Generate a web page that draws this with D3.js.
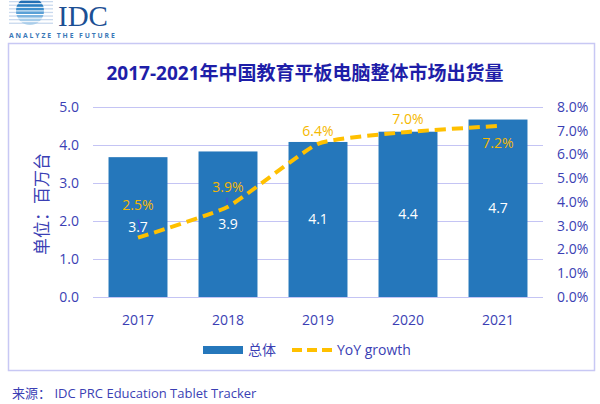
<!DOCTYPE html>
<html><head><meta charset="utf-8">
<script src="https://cdn.jsdelivr.net/npm/d3@7/dist/d3.min.js"></script>
<style>
body{margin:0;background:#fff;}
svg{display:block;font-family:"Open Sans","Noto Sans CJK SC",sans-serif;}
</style></head>
<body>
<svg id="c" width="600" height="404"></svg>
<script>
const years = ["2017","2018","2019","2020","2021"];
const totals = [3.68, 3.83, 4.08, 4.35, 4.67];
const totalLabels = ["3.7","3.9","4.1","4.4","4.7"];
const growth = [2.5, 3.8, 6.45, 6.95, 7.2];
const growthLabels = ["2.5%","3.9%","6.4%","7.0%","7.2%"];
const leftTicks = [0,1,2,3,4,5];
const rightTicks = [0,1,2,3,4,5,6,7,8];

const svg = d3.select("#c");
const textBlue = "#3b3fb4";
const barBlue = "#2577bb";
const yellow = "#ffc000";
const grid = "#c4c4f4";

// frame
svg.append("rect").attr("x",8.5).attr("y",43.5).attr("width",586).attr("height",327)
  .attr("fill","none").attr("stroke","#c8c8f4").attr("stroke-width",1.5);

// logo
const logo = svg.append("g");
const stripeCols = ["#1b5f9e","#2370b4","#2a7fc2","#3d8fcd","#5aa0d6","#7fb5e0","#a8cdea"];
for(let i=0;i<7;i++){
  const y = 1 + i*3.6;
  logo.append("rect").attr("x",9).attr("y",y).attr("width",44).attr("height",1.3).attr("fill","#c9d9ee");
}
const clip = svg.append("clipPath").attr("id","globe");
clip.append("circle").attr("cx",30).attr("cy",11).attr("r",14);
const gl = logo.append("g").attr("clip-path","url(#globe)");
for(let i=0;i<8;i++){
  gl.append("rect").attr("x",14).attr("y",-3+i*3.6).attr("width",32).attr("height",2.6).attr("fill",stripeCols[Math.min(i,6)]);
}
logo.append("text").attr("x",58).attr("y",26).attr("font-family","Liberation Serif, serif")
  .attr("font-size",29).attr("fill","#1c4f94").text("IDC");
logo.append("text").attr("x",9).attr("y",38).attr("font-size",6.8).attr("letter-spacing",1.9)
  .attr("font-weight","bold").attr("fill","#3a78b8").text("ANALYZE THE FUTURE");

// title
svg.append("text").attr("x",305).attr("y",80).attr("text-anchor","middle")
  .attr("font-size",19).attr("font-weight","bold").attr("fill","#1e1ea8")
  .text("2017-2021年中国教育平板电脑整体市场出货量");

const x0 = 93, x1 = 543, yTop = 107, yBot = 297;
const x = d3.scaleBand().domain(years).range([x0,x1]).paddingInner(0.345).paddingOuter(0.1725);
const yL = d3.scaleLinear().domain([0,5]).range([yBot,yTop]);
const yR = d3.scaleLinear().domain([0,8]).range([yBot,yTop]);

// grid
svg.append("g").selectAll("line").data(leftTicks).join("line")
  .attr("x1",x0).attr("x2",x1).attr("y1",d=>yL(d)+0.5).attr("y2",d=>yL(d)+0.5)
  .attr("stroke",grid).attr("stroke-width",1.2);

// left axis labels
svg.append("g").selectAll("text").data(leftTicks).join("text")
  .attr("x",79).attr("y",d=>yL(d)).attr("dy","0.35em").attr("text-anchor","end")
  .attr("font-size",14).attr("fill",textBlue).text(d=>d3.format(".1f")(d));
// right axis labels
svg.append("g").selectAll("text").data(rightTicks).join("text")
  .attr("x",557).attr("y",d=>yR(d)).attr("dy","0.35em").attr("text-anchor","start")
  .attr("font-size",14).attr("fill",textBlue).text(d=>d3.format(".1f")(d)+"%");

// y title
svg.append("text").attr("transform","translate(48,204) rotate(-90)").attr("text-anchor","middle")
  .attr("font-size",17).attr("fill",textBlue).text("单位：百万台");

// bars
svg.append("g").selectAll("rect").data(totals).join("rect")
  .attr("x",(d,i)=>x(years[i])).attr("width",x.bandwidth())
  .attr("y",d=>yL(d)).attr("height",d=>yL(0)-yL(d)).attr("fill",barBlue);

// bar labels
svg.append("g").selectAll("text").data(totals).join("text")
  .attr("x",(d,i)=>x(years[i])+x.bandwidth()/2).attr("y",d=>(yL(d)+yL(0))/2)
  .attr("dy","0.35em").attr("text-anchor","middle").attr("font-size",14).attr("fill","#fff")
  .text((d,i)=>totalLabels[i]);

// x labels
svg.append("g").selectAll("text").data(years).join("text")
  .attr("x",d=>x(d)+x.bandwidth()/2).attr("y",320).attr("dy","0.35em").attr("text-anchor","middle")
  .attr("font-size",14).attr("fill",textBlue).text(d=>d);

// leader lines
const leaders = [[0, 3, -5, 0, -18],[1, -1, -3, -1, -9]];
svg.append("g").selectAll("line").data(leaders).join("line")
  .attr("x1",d=>x(years[d[0]])+x.bandwidth()/2+d[1]).attr("y1",d=>yR(growth[d[0]])+d[2])
  .attr("x2",d=>x(years[d[0]])+x.bandwidth()/2+d[3]).attr("y2",d=>yR(growth[d[0]])+d[4])
  .attr("stroke","#4a4ae0").attr("stroke-width",1.2);

// line
const line = d3.line().x((d,i)=>x(years[i])+x.bandwidth()/2).y(d=>yR(d)).curve(d3.curveCardinal.tension(0.55));
svg.append("path").datum(growth).attr("d",line).attr("fill","none")
  .attr("stroke",yellow).attr("stroke-width",4).attr("stroke-dasharray","11,6");

// line labels
const lblOff = [-33,-20,-13,-13,17];
svg.append("g").selectAll("text").data(growth).join("text")
  .attr("x",(d,i)=>x(years[i])+x.bandwidth()/2).attr("y",(d,i)=>yR(d)+lblOff[i])
  .attr("dy","0.35em").attr("text-anchor","middle").attr("font-size",14).attr("fill","#f5b800")
  .text((d,i)=>growthLabels[i]);

// legend
svg.append("rect").attr("x",203).attr("y",346).attr("width",40).attr("height",8).attr("fill",barBlue);
svg.append("text").attr("x",248).attr("y",350).attr("dy","0.35em").attr("font-size",14).attr("fill",textBlue).text("总体");
svg.append("line").attr("x1",292).attr("x2",332).attr("y1",350).attr("y2",350)
  .attr("stroke",yellow).attr("stroke-width",4).attr("stroke-dasharray","10,5");
svg.append("text").attr("x",337).attr("y",350).attr("dy","0.35em").attr("font-size",14).attr("fill",textBlue).text("YoY growth");

// footer
svg.append("text").attr("x",12).attr("y",393).attr("dy","0.35em").attr("font-size",13).attr("fill",textBlue)
  .text("来源：  IDC PRC Education Tablet Tracker");
</script>
</body></html>
